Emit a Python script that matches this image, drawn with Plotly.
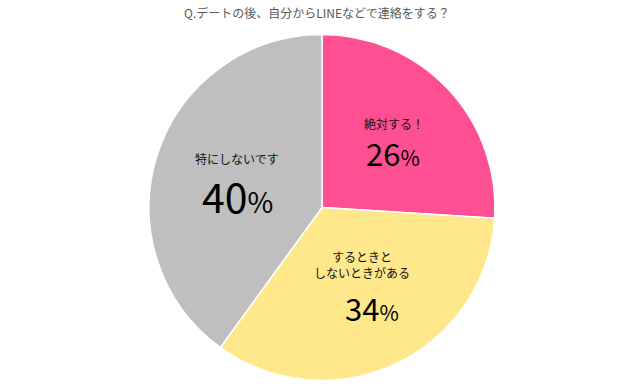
import plotly.graph_objects as go

labels = ["絶対する！", "するときと<br>しないときがある", "特にしないです"]
values = [26, 34, 40]
colors = ["#FF4F93", "#FFE88C", "#BFBFBF"]
title = "Q.デートの後、自分からLINEなどで連絡をする？"

W, H = 644, 390
cx, cy, r = 322, 207.5, 173

fig = go.Figure(go.Pie(
    labels=labels, values=values, sort=False, direction="clockwise", rotation=0,
    marker=dict(colors=colors, line=dict(color="white", width=1.5)),
    textinfo="none", hoverinfo="label+percent", showlegend=False,
    domain=dict(x=[(cx - r) / W, (cx + r) / W], y=[(H - cy - r) / H, (H - cy + r) / H]),
))

font = "Noto Sans CJK JP, Noto Sans, sans-serif"
label_pos = [(394, 123), (362, 264), (237, 158)]
pct_pos = [(393, 153), (372, 307), (237, 195)]
pct_size = [31, 31, 41]

ann = []
for i in range(3):
    lx, ly = label_pos[i]
    px, py = pct_pos[i]
    ann.append(dict(x=lx / W, y=1 - ly / H, xref="paper", yref="paper", text=labels[i],
                    showarrow=False, font=dict(family=font, size=12, color="#111111"),
                    xanchor="center", yanchor="middle"))
    small = round(pct_size[i] * 0.68)
    ann.append(dict(x=px / W, y=1 - py / H, xref="paper", yref="paper",
                    text=f"{values[i]}<span style='font-size:{small}px'>%</span>",
                    showarrow=False, font=dict(family=font, size=pct_size[i], color="#000000"),
                    xanchor="center", yanchor="middle"))
ann.append(dict(x=317 / W, y=1 - 13 / H, xref="paper", yref="paper", text=title, showarrow=False,
                font=dict(family=font, size=12, color="#595959"), xanchor="center", yanchor="middle"))

fig.update_layout(width=W, height=H, margin=dict(l=0, r=0, t=0, b=0),
                  paper_bgcolor="white", plot_bgcolor="white", annotations=ann)
fig.write_html("out.html", config={"displayModeBar": False},
               post_script="document.body.style.margin='0';")
